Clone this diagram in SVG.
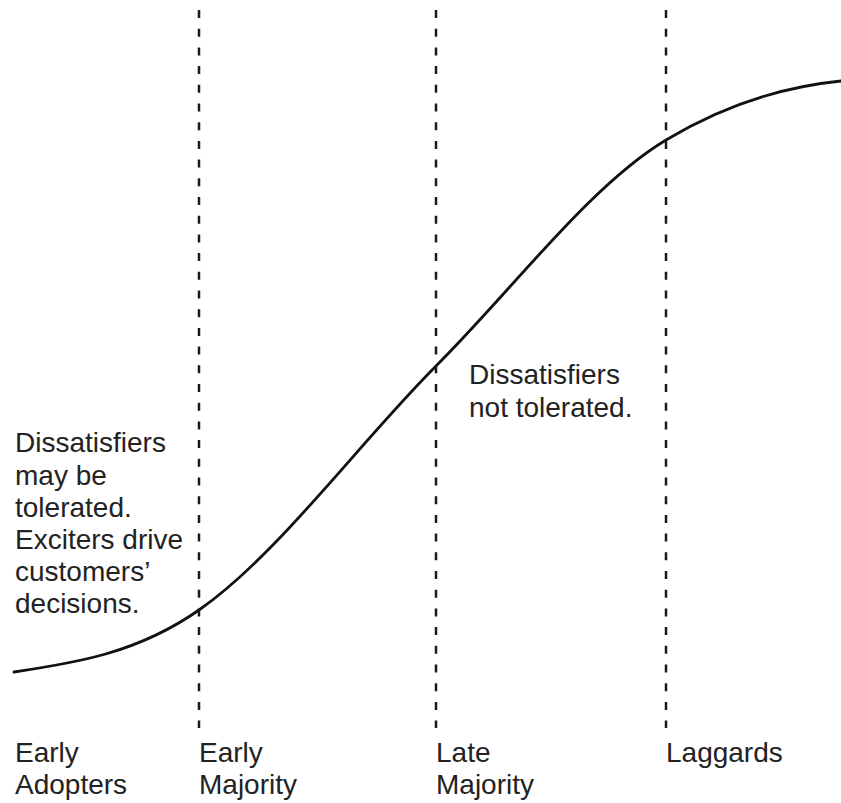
<svg xmlns="http://www.w3.org/2000/svg" width="841" height="803" viewBox="0 0 841 803">
  <style>
    .divider { stroke: #1a1a1a; stroke-width: 2.5; stroke-dasharray: 8 10.7; fill: none; }
    .curve { stroke: #111; stroke-width: 2.8; fill: none; stroke-linecap: round; }
    text { font-family: "Liberation Sans", Arial, Helvetica, sans-serif; font-size: 28px; fill: #222; }
  </style>
  <rect width="841" height="803" fill="#fff"/>

  <!-- segment boundaries -->
  <g id="connectors">
    <line class="divider" x1="199" y1="10" x2="199" y2="728"/>
    <line class="divider" x1="436" y1="10" x2="436" y2="728"/>
    <line class="divider" x1="666" y1="10" x2="666" y2="728"/>
    <!-- adoption S-curve -->
    <path class="curve" d="M14,672 C75.7,662.8 137.3,653.2 199,610 C278.3,554.5 357.7,444.3 437,365 C513.3,288.7 589.7,185.8 666,140 C724.3,105 782.7,86.8 841,81"/>
  </g>

  <g id="note-early">
    <text x="15" y="452">Dissatisfiers</text>
    <text x="15" y="484.5">may be</text>
    <text x="15" y="517">tolerated.</text>
    <text x="15" y="549">Exciters drive</text>
    <text x="15" y="581">customers’</text>
    <text x="15" y="613">decisions.</text>
  </g>

  <g id="note-late">
    <text x="469" y="384">Dissatisfiers</text>
    <text x="469" y="416.5">not tolerated.</text>
  </g>

  <g id="label-early-adopters">
    <text x="15" y="762">Early</text>
    <text x="15" y="794">Adopters</text>
  </g>
  <g id="label-early-majority">
    <text x="199" y="762">Early</text>
    <text x="199" y="794">Majority</text>
  </g>
  <g id="label-late-majority">
    <text x="436" y="762">Late</text>
    <text x="436" y="794">Majority</text>
  </g>
  <g id="label-laggards">
    <text x="666" y="762">Laggards</text>
  </g>
</svg>
